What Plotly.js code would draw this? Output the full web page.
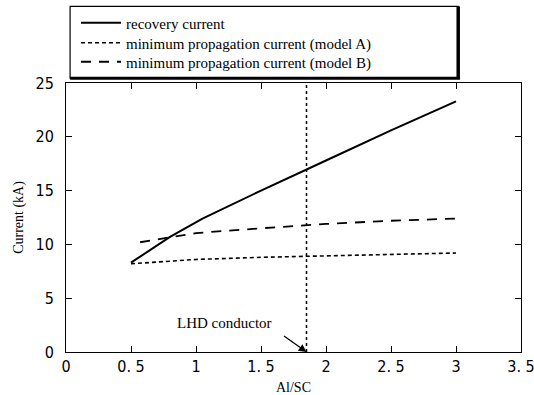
<!DOCTYPE html>
<html>
<head>
<meta charset="utf-8">
<script src="https://cdn.plot.ly/plotly-3.0.1.min.js"></script>
<style>html,body{margin:0;padding:0;background:#fff;}#chart{width:534px;height:395px;}</style>
</head>
<body>
<div id="chart"></div>
<script>
// ---- data ----
const recoveryX = [0.5, 0.8, 1.05, 1.5, 2.0, 2.5, 3.0];
const recoveryY = [8.3, 10.7, 12.4, 15.0, 17.8, 20.6, 23.3];
const modelAX = [0.5, 0.75, 1.0, 1.5, 2.0, 2.5, 3.0];
const modelAY = [8.2, 8.4, 8.6, 8.8, 8.95, 9.1, 9.2];
const modelBX = [0.57, 1.0, 1.5, 2.0, 2.5, 3.0];
const modelBY = [10.2, 11.05, 11.5, 11.9, 12.2, 12.4];
const seriesNames = ["recovery current", "minimum propagation current (model A)", "minimum propagation current (model B)"];
const lhdX = 1.85;
const lhdLabel = "LHD conductor";
const xTickVals = [0, 0.5, 1, 1.5, 2, 2.5, 3, 3.5];
const xTickText = ["0", "0. 5", "1", "1. 5", "2", "2. 5", "3", "3. 5"];
const yTickVals = [0, 5, 10, 15, 20, 25];
const yTickText = ["0", "5", "10", "15", "20", "25"];
const xTitle = "Al/SC";
const yTitle = "Current (kA)";

const serif = "Liberation Serif, Times New Roman, serif";
const narrow = "Liberation Sans Narrow, Arial Narrow, DejaVu Sans Condensed, Liberation Sans, sans-serif";

const traces = [
  {x: recoveryX, y: recoveryY, name: seriesNames[0], mode: 'lines', legend: 'legend',
   line: {color: '#000', width: 2, dash: 'solid'}},
  {x: modelAX, y: modelAY, name: seriesNames[1], mode: 'lines', legend: 'legend2',
   line: {color: '#000', width: 1.6, dash: '4px,3px'}},
  {x: modelBX, y: modelBY, name: seriesNames[2], mode: 'lines', legend: 'legend3',
   line: {color: '#000', width: 1.8, dash: '10px,8px'}}
];

const axisCommon = {
  showgrid: false, zeroline: false, showline: true, linecolor: '#000', linewidth: 1,
  mirror: 'ticks', ticks: 'inside', ticklen: 6, tickcolor: '#000', tickwidth: 1,
  tickfont: {family: narrow, size: 16, color: '#000'}, tickmode: 'array',
  ticklabeloverflow: 'allow'
};

function legendAt(yPix) {
  return {
    x: 0.022, y: (352 - yPix) / 269, xanchor: 'left', yanchor: 'middle',
    bgcolor: 'rgba(0,0,0,0)', borderwidth: 0,
    font: {family: serif, size: 15, color: '#000'}, itemwidth: 40
  };
}

const layout = {
  width: 534, height: 395,
  margin: {l: 66, r: 13, t: 83, b: 43, autoexpand: false},
  paper_bgcolor: '#fff', plot_bgcolor: '#fff',
  showlegend: true,
  legend: legendAt(23),
  legend2: legendAt(43),
  legend3: legendAt(62),
  xaxis: Object.assign({}, axisCommon, {
    range: [0, 3.5], tickvals: xTickVals, ticktext: xTickText,
    title: {text: xTitle, font: {family: serif, size: 14, color: '#000'}, standoff: 8}
  }),
  yaxis: Object.assign({}, axisCommon, {
    range: [0, 25], tickvals: yTickVals, ticktext: yTickText, ticklabelstandoff: 8,
    title: {text: yTitle, font: {family: serif, size: 14, color: '#000'}, standoff: 8}
  }),
  shapes: [
    {type: 'line', xref: 'x', yref: 'y', x0: lhdX, x1: lhdX, y0: 0, y1: 25,
     line: {color: '#000', width: 1.5, dash: 'dot'}},
    // legend box
    {type: 'rect', xref: 'paper', yref: 'paper', x0: 0.009, x1: 0.862, y0: 1.018, y1: 1.285,
     line: {color: '#000', width: 1.2}, fillcolor: 'rgba(0,0,0,0)'},
    {type: 'line', xref: 'paper', yref: 'paper', x0: 0.862, x1: 0.862, y0: 1.018, y1: 1.285,
     line: {color: '#000', width: 3.5}},
    {type: 'line', xref: 'paper', yref: 'paper', x0: 0.009, x1: 0.866, y0: 1.018, y1: 1.018,
     line: {color: '#000', width: 3}}
  ],
  annotations: [
    {x: 1.22, y: 2.7, xref: 'x', yref: 'y', text: lhdLabel, showarrow: false,
     xanchor: 'center', yanchor: 'middle', font: {family: serif, size: 15, color: '#000'}},
    {x: lhdX, y: 0, xref: 'x', yref: 'y', text: '', showarrow: true,
     ax: -24, ay: -17, arrowhead: 2, arrowsize: 1.2, arrowwidth: 1.3, arrowcolor: '#000'}
  ]
};

Plotly.newPlot('chart', traces, layout, {displayModeBar: false, staticPlot: true});
</script>
</body>
</html>
